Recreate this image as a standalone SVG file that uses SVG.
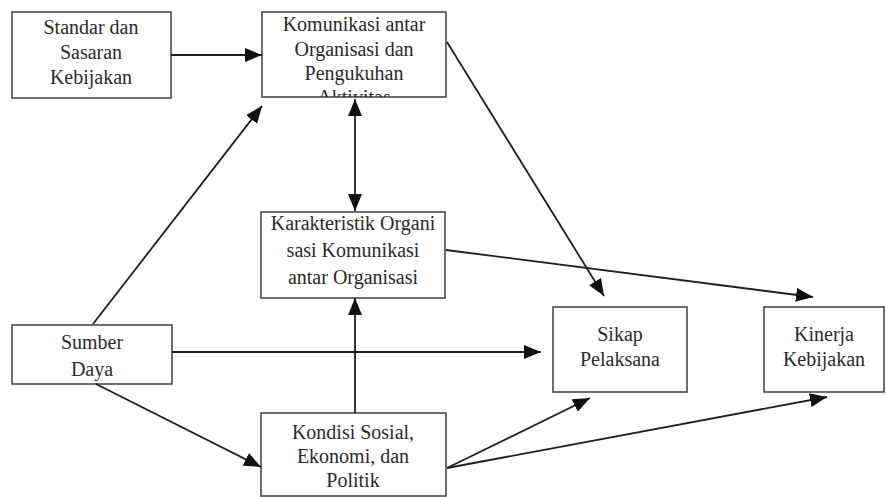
<svg xmlns="http://www.w3.org/2000/svg" width="886" height="497" viewBox="0 0 886 497">
<style>
.box{fill:#ffffff;stroke:#4a4a4a;stroke-width:1.6}
.t{font-size:20px;fill:#2a2a2a;text-anchor:middle}
.c{fill:none;stroke:#1e1e1e;stroke-width:1.8}
</style>
<defs>
<marker id="ah" markerUnits="userSpaceOnUse" markerWidth="18" markerHeight="14" refX="17" refY="7" orient="auto-start-reverse">
<path d="M0,0 L17,7 L0,14 z" fill="#111"/>
</marker>
<clipPath id="clipKom"><rect x="262" y="12" width="184" height="85"/></clipPath>
</defs>
<rect width="886" height="497" fill="#ffffff"/>
<g font-family="Liberation Serif, DejaVu Serif, serif">
<g id="standar">
<rect class="box" x="12" y="12" width="159" height="86"/>
<text class="t" x="91" y="34">Standar dan</text>
<text class="t" x="91" y="59">Sasaran</text>
<text class="t" x="91" y="84">Kebijakan</text>
</g>
<g id="komunikasi">
<rect class="box" x="262" y="12" width="184" height="85"/>
<g clip-path="url(#clipKom)">
<text class="t" x="354" y="31">Komunikasi antar</text>
<text class="t" x="354" y="56">Organisasi dan</text>
<text class="t" x="354" y="80">Pengukuhan</text>
<text class="t" x="354" y="104">Aktivitas</text>
</g>
</g>
<g id="karakteristik">
<rect class="box" x="261" y="212" width="184" height="86"/>
<text class="t" x="353" y="230">Karakteristik Organi</text>
<text class="t" x="353" y="257">sasi Komunikasi</text>
<text class="t" x="353" y="284">antar Organisasi</text>
</g>
<g id="sumber">
<rect class="box" x="12" y="325" width="160" height="59"/>
<text class="t" x="92" y="349">Sumber</text>
<text class="t" x="92" y="376">Daya</text>
</g>
<g id="sikap">
<rect class="box" x="553" y="307" width="134" height="85"/>
<text class="t" x="620" y="341">Sikap</text>
<text class="t" x="620" y="366">Pelaksana</text>
</g>
<g id="kinerja">
<rect class="box" x="764" y="307" width="120" height="85"/>
<text class="t" x="824" y="341">Kinerja</text>
<text class="t" x="824" y="366">Kebijakan</text>
</g>
<g id="kondisi">
<rect class="box" x="261" y="413" width="185" height="83"/>
<text class="t" x="353" y="439">Kondisi Sosial,</text>
<text class="t" x="353" y="463">Ekonomi, dan</text>
<text class="t" x="353" y="487">Politik</text>
</g>
</g>
<g id="connectors">
<path class="c" d="M171,55 L262,55" marker-end="url(#ah)"/>
<path class="c" d="M93,324 L262,106" marker-end="url(#ah)"/>
<path class="c" d="M355,99 L355,211" marker-start="url(#ah)" marker-end="url(#ah)"/>
<path class="c" d="M447,42 L604,296" marker-end="url(#ah)"/>
<path class="c" d="M446,250 L813,297" marker-end="url(#ah)"/>
<path class="c" d="M172,352 L541,352" marker-end="url(#ah)"/>
<path class="c" d="M96,384 L261,467" marker-end="url(#ah)"/>
<path class="c" d="M355,413 L355,298" marker-end="url(#ah)"/>
<path class="c" d="M447,468 L590,398" marker-end="url(#ah)"/>
<path class="c" d="M447,468 L827,397" marker-end="url(#ah)"/>
</g>
</svg>
